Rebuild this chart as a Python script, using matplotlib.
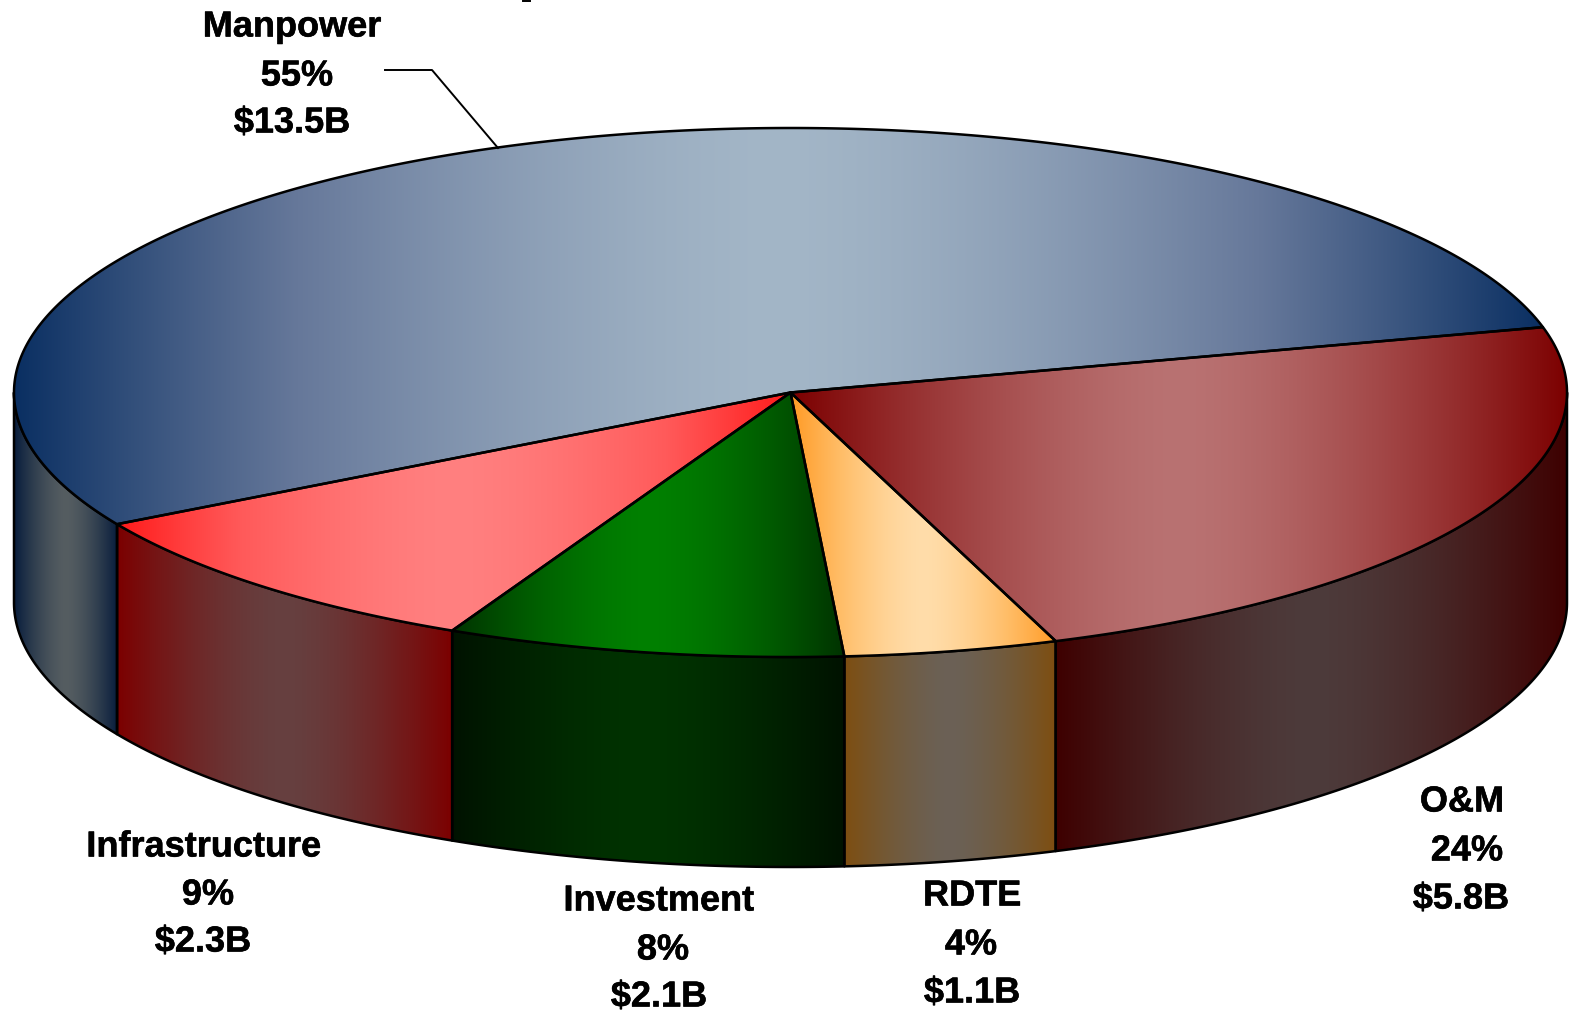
import numpy as np
import matplotlib
matplotlib.use("Agg")
import matplotlib.pyplot as plt
import matplotlib.patheffects as pe
from matplotlib.path import Path
from matplotlib.patches import PathPatch
from matplotlib.colors import to_rgb

# Chart data
categories = ["Manpower", "Infrastructure", "Investment", "RDTE", "O&M"]
percents = ["55%", "9%", "8%", "4%", "24%"]
dollars = ["$13.5B", "$2.3B", "$2.1B", "$1.1B", "$5.8B"]
# Slice sizes in $B (labels are rounded)
billions = [13.45, 2.36, 2.05, 1.10, 5.80]

# Styles: (edge, shoulder, middle) colours of each horizontal gradient
top_colors = [
    ("#0A2F62", "#66789A", "#A3B6C7"),
    ("#FF1A1A", "#FF5A5A", "#FF8080"),
    ("#003200", "#005A00", "#008000"),
    ("#FF9A24", "#FFBD67", "#FFDDAA"),
    ("#7C0000", "#9B3939", "#B97272"),
]
wall_colors = [
    ("#071C3C", "#2E3D4E", "#555D61"),
    ("#7C0000", "#712020", "#664040"),
    ("#001200", "#002200", "#003300"),
    ("#7E4E10", "#745833", "#6B6156"),
    ("#3E0000", "#451D1D", "#4D3B3B"),
]

# Label layout, centre x and y of each line in pixels
label_x = [(292, 297, 292), (204, 208, 203), (659, 663, 659), (972, 971, 972), (1462, 1467, 1461)]
label_y = [(23, 72, 119), (843, 891, 938), (897, 946, 993), (892, 941, 989), (798, 847, 895)]

W, H = 1569, 1013
CX, CY, RX, RY, DEPTH = 790.5, 392.5, 776.5, 264.5, 210
START_ANGLE = 14.3
LW = 1.8

fig = plt.figure(figsize=(W / 100, H / 100), dpi=100)
ax = fig.add_axes([0, 0, 1, 1])
ax.axis("off")


def arc(a0, a1, dy=0):
    t = np.radians(np.linspace(a0, a1, max(int(abs(a1 - a0) * 4), 2)))
    return np.column_stack([CX + RX * np.cos(t), CY - RY * np.sin(t) + dy])


def fill_gradient(points, colors, zorder):
    """Fill a closed polygon with an edge-middle-edge horizontal gradient and outline it"""
    path = Path(np.vstack([points, points[0]]), closed=True)
    patch = PathPatch(path, facecolor="none", edgecolor="black", lw=LW, joinstyle="round", zorder=zorder + 0.5)
    ax.add_patch(patch)
    stops = np.array([to_rgb(c) for c in colors[::-1]])  # middle, shoulder, edge
    # wider light part in the middle than a plain linear ramp
    s = np.abs(np.linspace(-1, 1, 512)) ** 1.5
    grad = np.stack([np.interp(s, [0, 0.5, 1], stops[:, c]) for c in range(3)], axis=-1)[None, :, :]
    x0, x1 = points[:, 0].min(), points[:, 0].max()
    y0, y1 = points[:, 1].min(), points[:, 1].max()
    im = ax.imshow(grad, extent=(x0, x1, y1, y0), aspect="auto", interpolation="bilinear", zorder=zorder)
    im.set_clip_path(patch)


sweeps = np.array(billions) / sum(billions) * 360
edges = START_ANGLE + np.concatenate([[0], np.cumsum(sweeps)])

# Side walls, only the front half of the pie is visible
for i in range(len(categories)):
    a0, a1 = max(edges[i], 180), min(edges[i + 1], 360)
    if a1 <= a0:
        continue
    fill_gradient(np.vstack([arc(a0, a1), arc(a1, a0, DEPTH)]), wall_colors[i], 2)

# Top faces
for i in range(len(categories)):
    pts = np.vstack([[[CX, CY]], arc(edges[i], edges[i + 1])])
    fill_gradient(pts, top_colors[i], 3)

# Leader line for Manpower
ax.plot([385, 432, 498], [70, 70, 148], color="black", lw=1.4, zorder=5)
# Bit of a cropped title at the very top
ax.plot([523, 530], [0.5, 0.5], color="black", lw=1.4, zorder=5)

for i, name in enumerate(categories):
    lines = [name, percents[i], dollars[i]]
    for line, x, y in zip(lines, label_x[i], label_y[i]):
        ax.text(x, y, line, ha="center", va="center_baseline", fontsize=26,
                family="Liberation Sans", weight="bold", color="black", zorder=6,
                path_effects=[pe.withStroke(linewidth=0.4, foreground="black")])

ax.set_xlim(0, W)
ax.set_ylim(H, 0)
fig.savefig("out.png", dpi=100, facecolor="white")
